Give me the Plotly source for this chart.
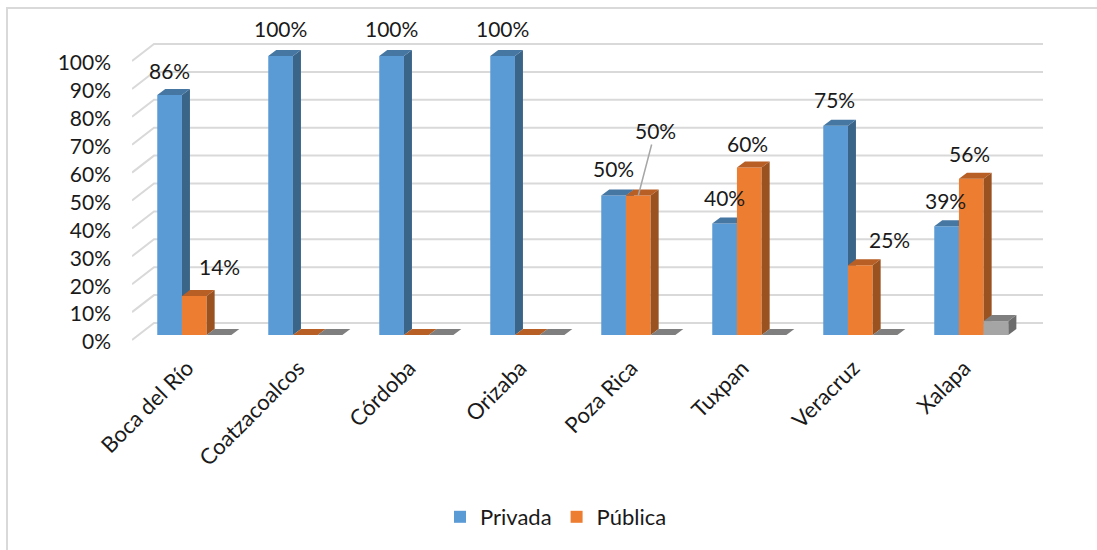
import plotly.graph_objects as go

categories = ["Boca del Río", "Coatzacoalcos", "Córdoba", "Orizaba", "Poza Rica", "Tuxpan", "Veracruz", "Xalapa"]
privada = [86, 100, 100, 100, 50, 40, 75, 39]
publica = [14, 0, 0, 0, 50, 60, 25, 56]
otra = [0, 0, 0, 0, 0, 0, 0, 5]
y_ticks = list(range(0, 101, 10))
y_labels = [f"{v}%" for v in y_ticks]

# ---- geometry (pixels of the page) ----
W, H = 1097, 550
L, R, T, B = 132, 1043, 20, 342
PX_X = 111.0            # px per category
X0 = 194.3              # px of first group centre
PX_Y = 2.79             # px per percentage point
BASE_BAR = 335.0        # px of 0 % on the bars' plane
BASE_FRONT = 340.0      # px of 0 % on the front plane (tick labels)
BAR_W = 24.7 / PX_X
DX, DY = 8 / PX_X, 6 / PX_Y
WALL_DX, WALL_DY = 22 / PX_X, 17 / PX_Y
XTICK_SHIFT = 7 / PX_X
YTICK_SHIFT = 2 / PX_Y
FONT = "Lato"
FS = 21
TXT = "#1a1a1a"

x_range = [(L - X0) / PX_X, (R - X0) / PX_X]
yb_range = [(BASE_BAR - B) / PX_Y, (BASE_BAR - T) / PX_Y]
yf_range = [(BASE_FRONT - B) / PX_Y, (BASE_FRONT - T) / PX_Y]

fig = go.Figure()

# gridlines: front-plane stub, then back wall
gx, gy = [], []
for v in y_ticks:
    gx += [x_range[0], x_range[0] + WALL_DX, x_range[1], None]
    gy += [v, v + WALL_DY, v + WALL_DY, None]
fig.add_trace(go.Scatter(x=gx, y=gy, mode="lines", line=dict(color="#D9D9D9", width=2),
                         showlegend=False, hoverinfo="skip", yaxis="y"))

series = [
    ("Privada", privada, "#5B9BD5", "#3A6488", "#4677A3", True),
    ("Pública", publica, "#ED7D31", "#995220", "#B75F25", True),
    ("Otra", otra, "#A5A5A5", "#6C6C6C", "#7F7F7F", False),
]
xs = list(range(len(categories)))
z = 1
for k, (name, vals, front, side, top, leg) in enumerate(series):
    off = (k - 1.5) * BAR_W
    fig.add_trace(go.Bar(x=xs, y=vals, name=name, width=BAR_W, offset=off, yaxis="y2",
                         marker=dict(color=front, line=dict(width=0)), showlegend=leg,
                         hoverinfo="skip", zorder=z))
    z += 1
    sx, sy, tx, ty = [], [], [], []
    for x, v in zip(xs, vals):
        a = x + off
        b = a + BAR_W
        tx += [a, b, b + DX, a + DX, a, None]
        ty += [v, v, v + DY, v + DY, v, None]
        if v > 0:
            sx += [b, b + DX, b + DX, b, b, None]
            sy += [0, DY, v + DY, v, 0, None]
    fig.add_trace(go.Scatter(x=sx, y=sy, mode="lines", fill="toself", fillcolor=side, line=dict(width=0),
                             showlegend=False, hoverinfo="skip", yaxis="y2", zorder=z))
    z += 1
    fig.add_trace(go.Scatter(x=tx, y=ty, mode="lines", fill="toself", fillcolor=top, line=dict(width=0),
                             showlegend=False, hoverinfo="skip", yaxis="y2", zorder=z))
    z += 1

# data labels: (series index, category index) -> pixel shift from bar top centre
label_shift = {
    (0, 0): (0, 25), (1, 0): (25, 29),
    (0, 1): (0, 28), (0, 2): (0, 28), (0, 3): (0, 28),
    (0, 4): (0, 27), (1, 5): (-2, 24), (0, 5): (0, 26),
    (0, 6): (-1, 26), (1, 6): (29, 26), (0, 7): (-1, 26), (1, 7): (-2, 25),
}
anns = []
for (k, i), (sx_, sy_) in label_shift.items():
    vals = series[k][1]
    anns.append(dict(x=i + (k - 1) * BAR_W, y=vals[i], xref="x", yref="y2", text=f"{vals[i]}%",
                     showarrow=False, xshift=sx_, yshift=sy_, font=dict(family=FONT, size=FS, color=TXT)))
# Poza Rica, Pública: label with a leader line
anns.append(dict(x=4, y=publica[4], xref="x", yref="y2", text=f"{publica[4]}%", showarrow=True,
                 ax=17, ay=-65, arrowhead=0, arrowwidth=1.5, arrowcolor="#A6A6A6",
                 font=dict(family=FONT, size=FS, color=TXT)))

# outer chart frame (open at the bottom/right edge of the picture)
shapes = [dict(type="rect", xref="paper", yref="paper", layer="below",
               x0=(7 - L) / (R - L), x1=(W + 20 - L) / (R - L),
               y0=(B - (H + 20)) / (B - T), y1=(B - 8) / (B - T),
               line=dict(color="#D9D9D9", width=2))]

fig.update_layout(
    width=W, height=H, margin=dict(l=L, r=W - R, t=T, b=H - B),
    paper_bgcolor="white", plot_bgcolor="rgba(0,0,0,0)",
    barmode="overlay",
    font=dict(family=FONT, size=FS, color=TXT),
    xaxis=dict(range=x_range, tickmode="array", tickvals=[x - XTICK_SHIFT for x in xs], ticktext=categories,
               tickangle=-45, showgrid=False, zeroline=False, showline=False, ticks="", ticklabelstandoff=8,
               tickfont=dict(family=FONT, size=22, color=TXT)),
    yaxis=dict(range=yf_range, tickmode="array", tickvals=[v - YTICK_SHIFT for v in y_ticks], ticktext=y_labels,
               showgrid=False, zeroline=False, showline=False, ticks="", ticklabelstandoff=20,
               tickfont=dict(family=FONT, size=FS, color=TXT)),
    yaxis2=dict(range=yb_range, overlaying="y", visible=False),
    legend=dict(orientation="h", x=(556 - L) / (R - L), xanchor="center", y=(B - 517) / (B - T), yanchor="middle",
                font=dict(family=FONT, size=22, color=TXT), bgcolor="rgba(0,0,0,0)"),
    annotations=anns, shapes=shapes,
)
fig.write_html("out.html", post_script="document.body.style.margin='0';", config={"displayModeBar": False})
